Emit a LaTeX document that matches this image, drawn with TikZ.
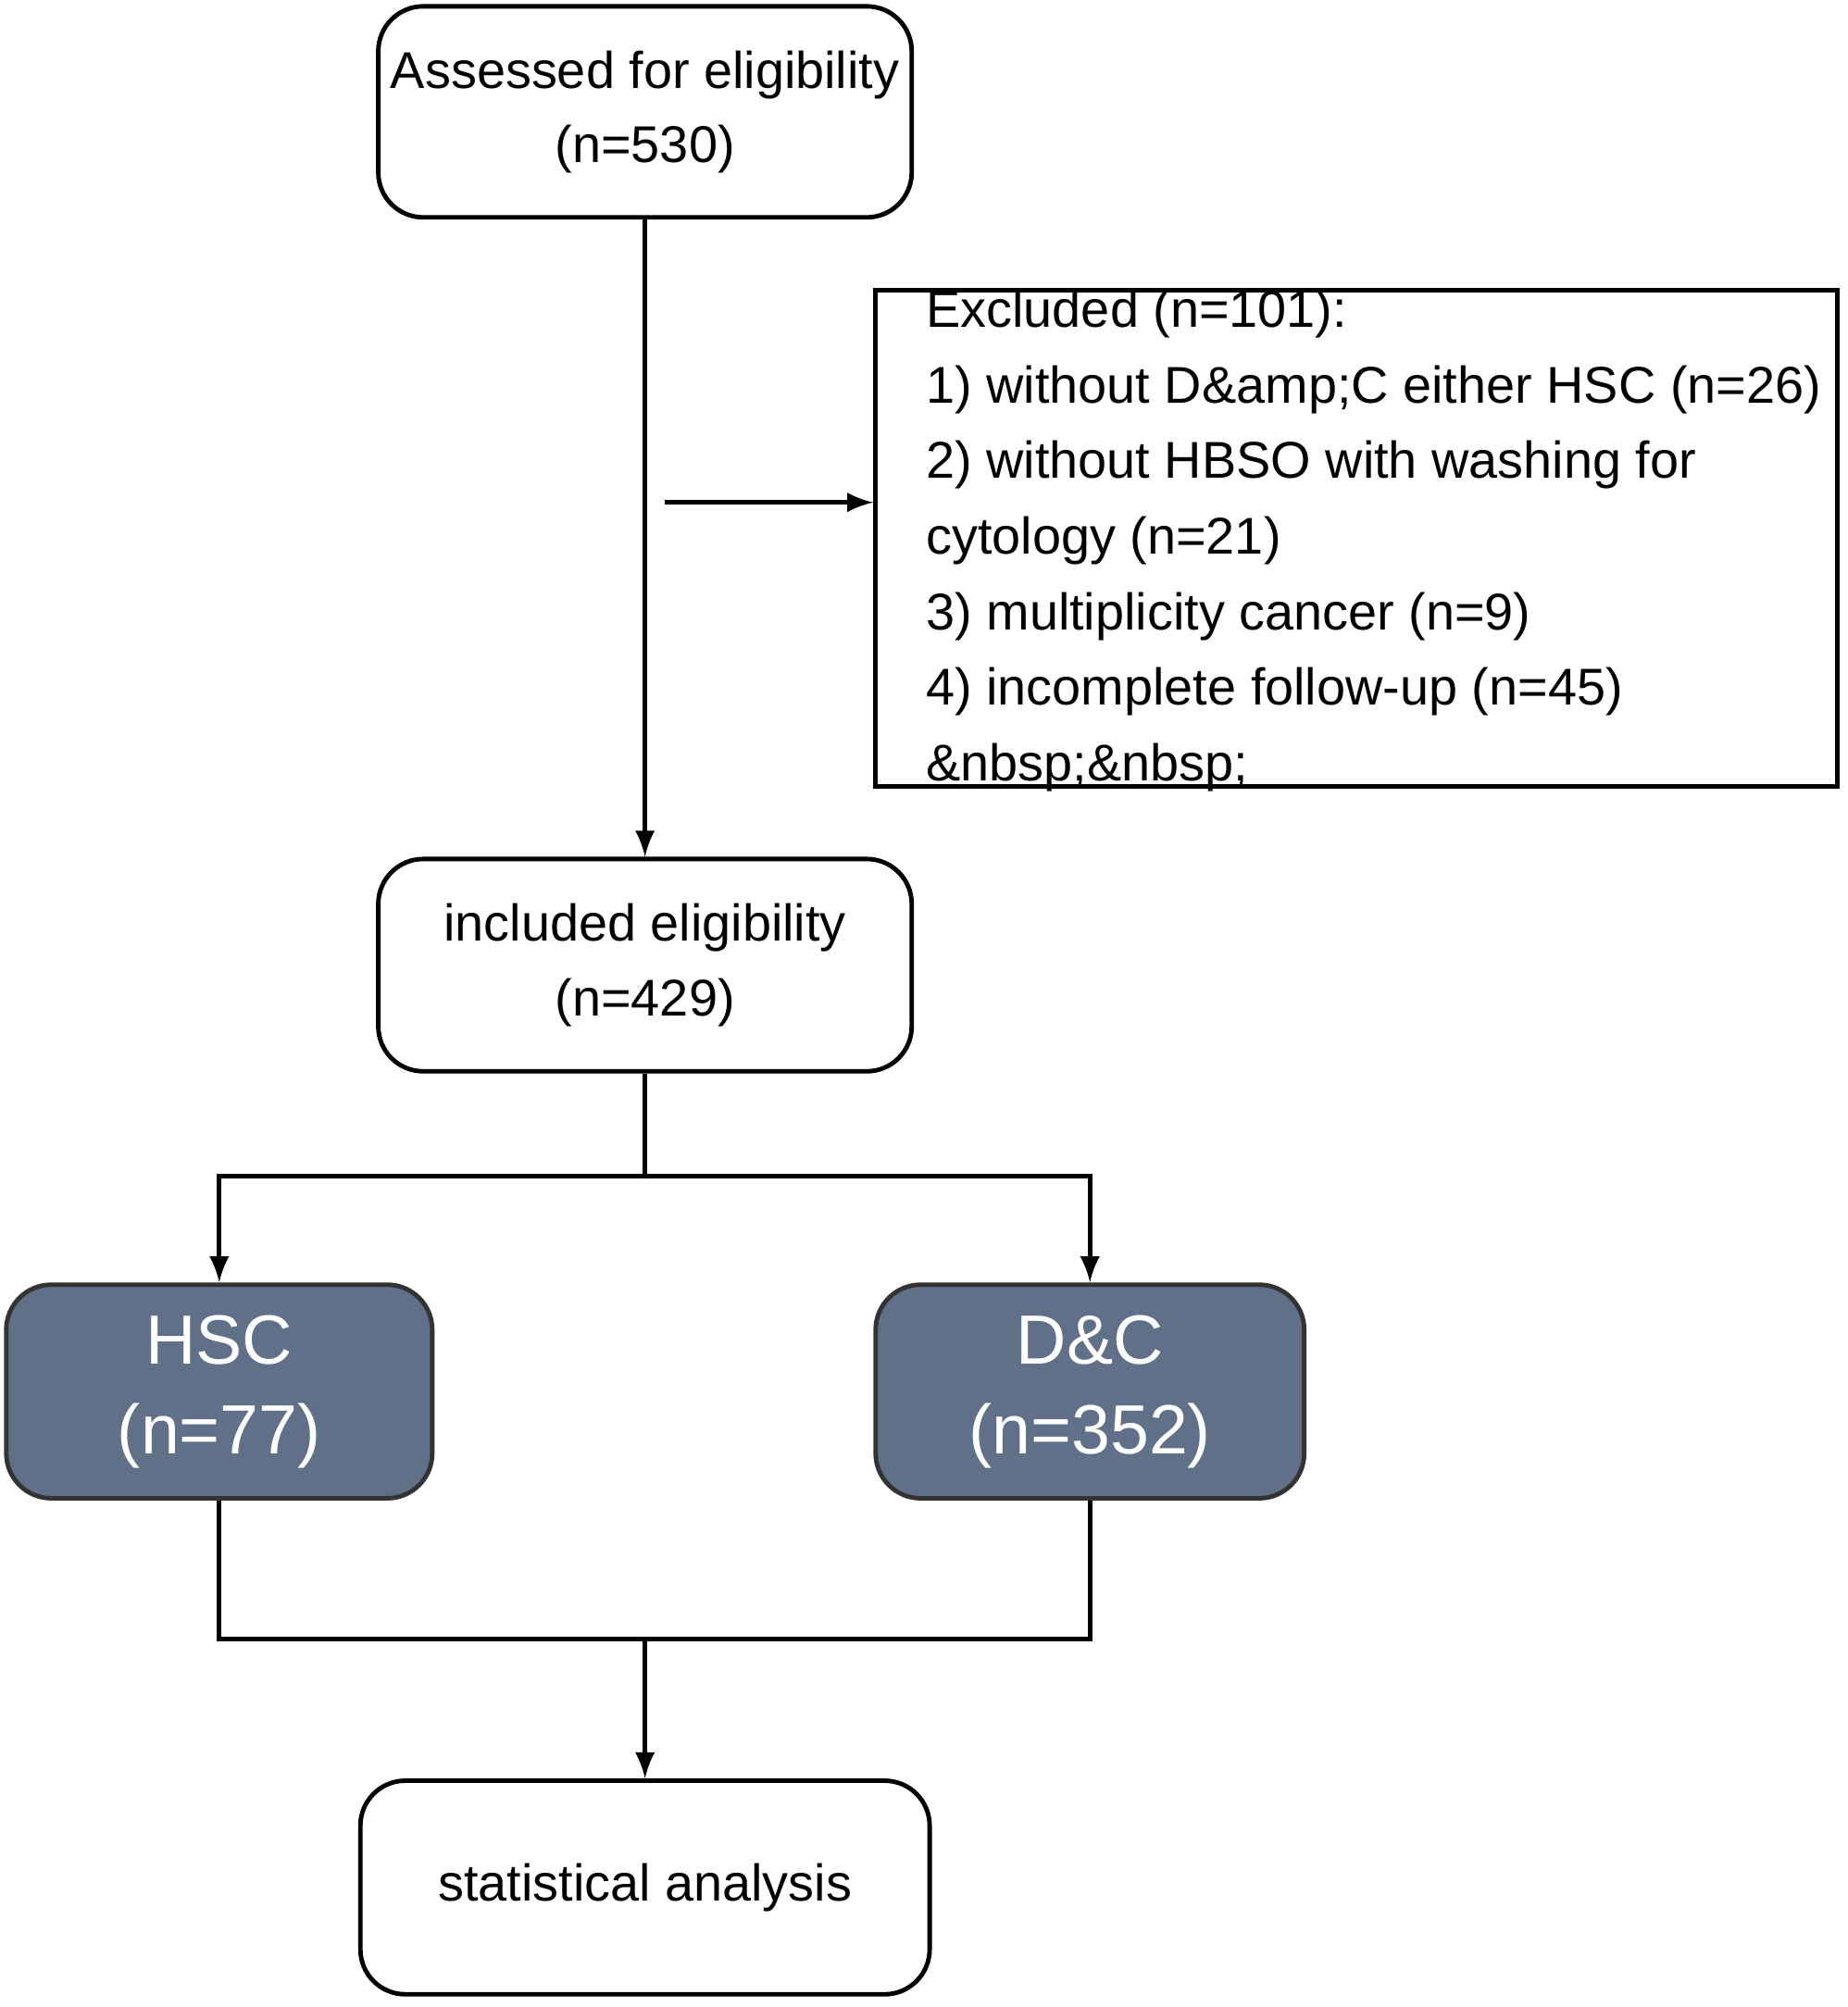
\documentclass[tikz,border=0pt]{standalone}
\usepackage{fontspec}
\setmainfont{Liberation Sans}
\usetikzlibrary{positioning}
\definecolor{slate}{HTML}{607088}
\tikzset{
  box/.style={draw, line width=1pt, rounded corners=10pt, align=center, inner sep=0pt, font=\fontsize{11.5}{16.5}\selectfont},
  grp/.style={box, fill=slate, draw=black!80, text=white, font=\fontsize{15.5}{20}\selectfont},
  link/.style={line width=1pt},
  arr/.style={link, -latex}
}
\begin{document}
\begin{tikzpicture}[x=0.01cm, y=-0.01cm]
\useasboundingbox (0,0) rectangle (1445,1570);
\node[box, minimum width=4.17cm, minimum height=1.65cm] (assess) at (504.5,87.5) {Assessed for eligibility\\(n=530)};
\node[draw, line width=1pt, minimum width=7.52cm, minimum height=3.88cm, inner sep=0pt] (excl) at (1061,421) {};
\node[align=left, anchor=west, font=\fontsize{11.5}{16.8}\selectfont] (excltxt) at (712,423) {Excluded (n=101):\\1) without D\&amp;C either HSC (n=26)\\2) without HBSO with washing for\\cytology (n=21)\\3) multiplicity cancer (n=9)\\4) incomplete follow-up (n=45)\\\&nbsp;\&nbsp;};
\node[box, minimum width=4.17cm, minimum height=1.66cm] (incl) at (504.5,755) {included eligibility\\(n=429)};
\node[grp, minimum width=3.33cm, minimum height=1.67cm] (hsc) at (171.5,1088.5) {HSC\\(n=77)};
\node[grp, minimum width=3.35cm, minimum height=1.67cm] (dc) at (852.5,1088.5) {D\&C\\(n=352)};
\node[box, minimum width=4.45cm, minimum height=1.67cm] (stat) at (504.5,1476.5) {statistical analysis};
\coordinate (split) at (504.5,920);
\coordinate (join) at (504.5,1282);
\coordinate (tap) at (520,393);
\draw[arr] (assess) -- (incl);
\draw[arr] (tap) -- (excl.west|-tap);
\draw[link] (incl) -- (split);
\draw[arr] (split) -| (hsc);
\draw[arr] (split) -| (dc);
\draw[link] (hsc) |- (join) -| (dc);
\draw[arr] (join) -- (stat);
\end{tikzpicture}
\end{document}
